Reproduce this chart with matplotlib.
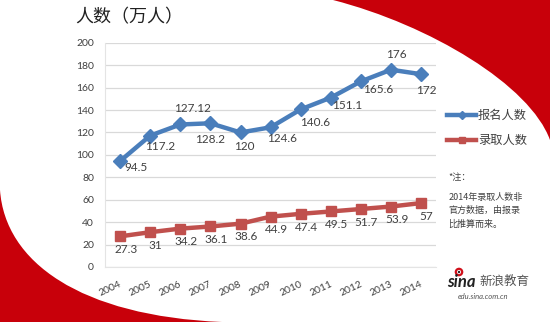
import matplotlib.pyplot as plt
import matplotlib.transforms as mtransforms
from matplotlib.path import Path
from matplotlib.patches import PathPatch, Circle

# 数据
years = ["2004", "2005", "2006", "2007", "2008", "2009", "2010", "2011", "2012", "2013", "2014"]
baoming = [94.5, 117.2, 127.12, 128.2, 120, 124.6, 140.6, 151.1, 165.6, 176, 172]
luqu = [27.3, 31, 34.2, 36.1, 38.6, 44.9, 47.4, 49.5, 51.7, 53.9, 57]
baoming_txt = ["94.5", "117.2", "127.12", "128.2", "120", "124.6", "140.6", "151.1", "165.6", "176", "172"]
luqu_txt = ["27.3", "31", "34.2", "36.1", "38.6", "44.9", "47.4", "49.5", "51.7", "53.9", "57"]
yticks = [0, 20, 40, 60, 80, 100, 120, 140, 160, 180, 200]

cjk = ["Noto Sans CJK SC", "DejaVu Sans"]
num = ["Lato", "DejaVu Sans"]
blue = "#4a7ebb"
red = "#c0504d"
dark = "#404040"

fig = plt.figure(figsize=(5.5, 3.22), dpi=100)

# 背景红色弧形
bg = fig.add_axes([0, 0, 1, 1])
bg.set_xlim(0, 550)
bg.set_ylim(322, 0)
bg.axis("off")
p1 = Path([(0, 190), (5, 262), (80, 316), (222, 322), (0, 322), (0, 190)],
          [Path.MOVETO, Path.CURVE4, Path.CURVE4, Path.CURVE4, Path.LINETO, Path.CLOSEPOLY])
p2 = Path([(333, 0), (430, 25), (530, 85), (550, 140), (550, 0), (333, 0)],
          [Path.MOVETO, Path.CURVE4, Path.CURVE4, Path.CURVE4, Path.LINETO, Path.CLOSEPOLY])
bg.add_patch(PathPatch(p1, fc="#c8000a", ec="none"))
bg.add_patch(PathPatch(p2, fc="#c8000a", ec="none"))
# 新浪logo小眼睛
bg.add_patch(Circle((459, 272), 3.2, fc="none", ec="#d0101a", lw=1.6))
bg.add_patch(Circle((459, 272), 1.2, fc="#222222", ec="none"))

ax = fig.add_axes([0.191, 0.171, 0.602, 0.696])
ax.patch.set_alpha(0)
x = list(range(len(years)))

ax.plot(x, baoming, color=blue, lw=3.2, marker="D", ms=7.5, label="报名人数", zorder=3)
ax.plot(x, luqu, color=red, lw=3.2, marker="s", ms=7.5, label="录取人数", zorder=3)

# 数据标签偏移 (像素)
b_off = [(16, -6), (10, -11), (12, 16), (0, -16), (4, -14), (11, -11), (14, -13), (16, -8), (17, -8), (5, 15), (5, -16)]
for i in x:
    ax.annotate(baoming_txt[i], (i, baoming[i]), xytext=(b_off[i][0] * 0.72, b_off[i][1] * 0.72),
                textcoords="offset points", ha="center", va="center", fontsize=8.5,
                color=dark, family=num)
    ax.annotate(luqu_txt[i], (i, luqu[i]), xytext=(4, -9.5), textcoords="offset points",
                ha="center", va="center", fontsize=8.5, color=dark, family=num)

ax.set_xlim(-0.5, 10.5)
ax.set_ylim(0, 200)
ax.set_yticks(yticks)
ax.set_yticklabels([str(v) for v in yticks], family=num, fontsize=7.5, color=dark)
ax.set_xticks(x)
ax.set_xticklabels(years, rotation=25, family=num, fontsize=7.5, color=dark)
ax.tick_params(length=0, pad=8)
ax.tick_params(axis="x", pad=9)
shift = mtransforms.ScaledTranslation(-10 / 100, 0, fig.dpi_scale_trans)
for lab in ax.get_xticklabels():
    lab.set_transform(lab.get_transform() + shift)
ax.grid(axis="y", color="#d9d9d9", lw=0.9)
for s in ax.spines.values():
    s.set_color("#e4e4e4")
ax.spines["top"].set_visible(False)
ax.spines["right"].set_visible(False)

fig.text(0.136, 0.945, "人数（万人）", family=cjk, fontsize=13, color="#202020", va="center")

leg = ax.legend(loc="center left", bbox_to_anchor=(1.0, 0.62), frameon=False,
                prop={"family": cjk, "size": 8.8}, handlelength=2.4, labelspacing=1.0,
                handletextpad=0.1, markerscale=0.6)
for t in leg.get_texts():
    t.set_color(dark)

fig.text(0.815, 0.45, "*注：", family=cjk, fontsize=6.5, color=dark, va="center")
fig.text(0.815, 0.345, "2014年录取人数非\n官方数据，由报录\n比推算而来。", family=cjk, fontsize=6.5,
         color=dark, va="center", linespacing=1.55)

fig.text(0.813, 0.125, "sina", family=num, fontsize=12, weight="bold", style="italic", color="#222222", va="center")
fig.text(0.871, 0.125, "新浪教育", family=cjk, fontsize=9, style="italic", color="#555555", va="center")
fig.text(0.833, 0.078, "edu.sina.com.cn", family=num, fontsize=5.5, style="italic", color="#555555", va="center")

fig.savefig("out.png", dpi=100)
